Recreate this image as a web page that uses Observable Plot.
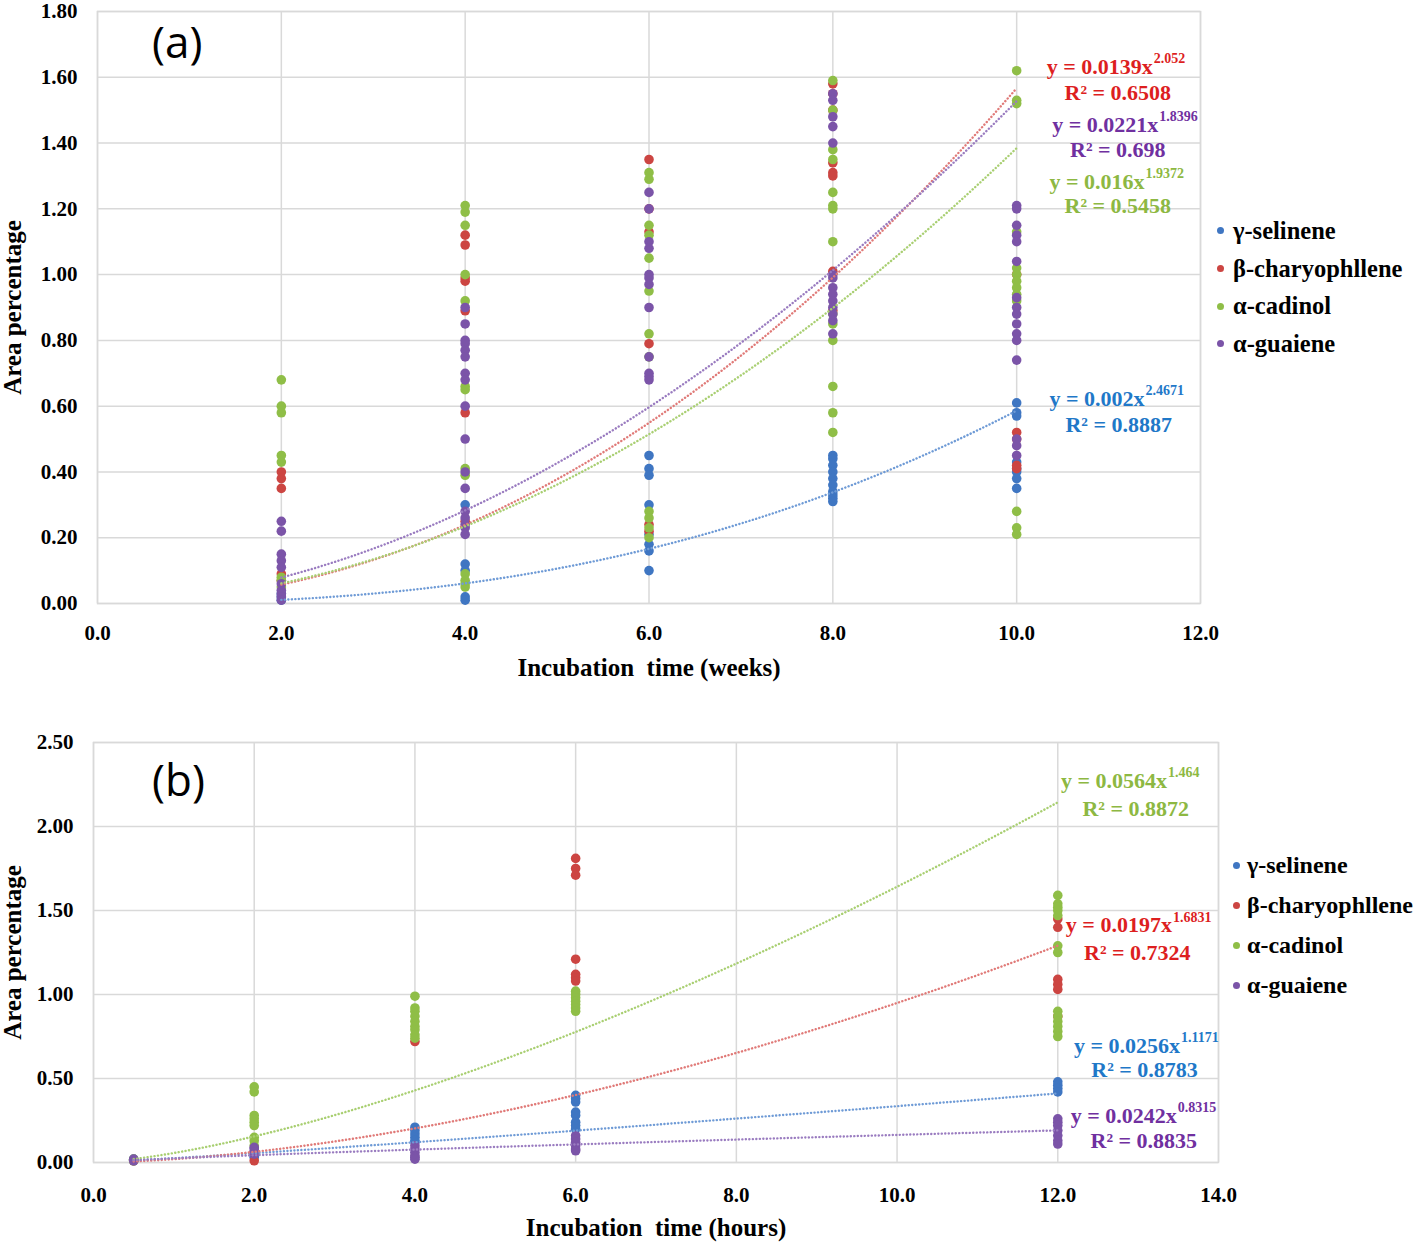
<!DOCTYPE html>
<html>
<head>
<meta charset="utf-8">
<script src="https://cdn.jsdelivr.net/npm/d3@7"></script>
<script src="https://cdn.jsdelivr.net/npm/@observablehq/plot@0.6"></script>
<style>
  html, body { margin: 0; padding: 0; background: #fff; }
  #root { position: relative; width: 1418px; height: 1244px; overflow: hidden;
          font-family: "Liberation Serif", "Times New Roman", serif; }
  .panel { position: absolute; left: 0; }
  .tag { position: absolute; font-family: "Open Sans", "Noto Sans", sans-serif; font-size: 44px; color: #000; line-height: 1; }
  .legend { position: absolute; font-weight: bold; color: #000; }
  .legend .row { display: flex; align-items: center; white-space: nowrap; }
  .legend .dot { width: 7px; height: 7px; border-radius: 50%; flex: none; }
</style>
</head>
<body>
<div id="root"></div>
<script>
// ---------------- data ----------------
const seriesNames = ["γ-selinene", "β-charyophllene", "α-cadinol", "α-guaiene"];

// panel (a): incubation time in weeks
const weeks = [2, 4, 6, 8, 10];
const selineneWeeks = [
  [0.01, 0.02, 0.03],
  [0.30, 0.12, 0.10, 0.02, 0.01],
  [0.45, 0.41, 0.39, 0.30, 0.21, 0.18, 0.16, 0.10],
  [0.45, 0.44, 0.42, 0.40, 0.38, 0.36, 0.34, 0.33, 0.32, 0.31],
  [0.61, 0.58, 0.57, 0.43, 0.41, 0.40, 0.38, 0.35]
];
const charyWeeks = [
  [0.40, 0.38, 0.35, 0.09, 0.07],
  [1.12, 1.09, 0.99, 0.98, 0.89, 0.58, 0.25],
  [1.35, 1.20, 1.13, 0.79, 0.24, 0.22],
  [1.58, 1.55, 1.50, 1.34, 1.31, 1.30, 1.01, 0.89],
  [1.00, 0.52, 0.50, 0.42, 0.41]
];
const cadinolWeeks = [
  [0.68, 0.60, 0.58, 0.45, 0.43, 0.08, 0.07, 0.05],
  [1.21, 1.19, 1.15, 1.00, 0.92, 0.66, 0.65, 0.41, 0.39, 0.09, 0.07, 0.06, 0.05],
  [1.31, 1.29, 1.15, 1.12, 1.05, 0.95, 0.82, 0.75, 0.28, 0.26, 0.23, 0.20],
  [1.59, 1.50, 1.38, 1.35, 1.25, 1.21, 1.20, 1.10, 0.88, 0.85, 0.80, 0.66, 0.58, 0.52],
  [1.62, 1.53, 1.52, 1.13, 1.02, 1.00, 0.98, 0.96, 0.94, 0.92, 0.28, 0.23, 0.21]
];
const guaieneWeeks = [
  [0.25, 0.22, 0.15, 0.13, 0.11, 0.06, 0.04, 0.03, 0.02, 0.01],
  [0.90, 0.85, 0.80, 0.79, 0.77, 0.75, 0.70, 0.68, 0.60, 0.50, 0.40, 0.35, 0.28, 0.26, 0.24, 0.23, 0.21],
  [1.25, 1.20, 1.10, 1.08, 1.00, 0.99, 0.97, 0.90, 0.75, 0.70, 0.69, 0.68],
  [1.55, 1.53, 1.48, 1.45, 1.40, 1.00, 0.99, 0.96, 0.94, 0.92, 0.90, 0.88, 0.86, 0.82],
  [1.21, 1.20, 1.15, 1.12, 1.10, 1.04, 0.93, 0.90, 0.88, 0.85, 0.82, 0.80, 0.74, 0.50, 0.48, 0.45]
];
// power trendlines y = a x^b, panel (a), in series order
const coefWeeks = ["0.002", "0.0139", "0.016", "0.0221"];
const expWeeks = ["2.4671", "2.052", "1.9372", "1.8396"];
const r2Weeks = ["0.8887", "0.6508", "0.5458", "0.698"];

// panel (b): incubation time in hours
const hours = [0.5, 2, 4, 6, 12];
const selineneHours = [
  [0.02, 0.01],
  [0.06, 0.04, 0.03],
  [0.21, 0.19, 0.17, 0.15, 0.13, 0.12],
  [0.40, 0.38, 0.36, 0.30, 0.28, 0.24, 0.22, 0.20],
  [0.48, 0.46, 0.44, 0.42]
];
const charyHours = [
  [0.01],
  [0.06, 0.01],
  [0.72],
  [1.81, 1.75, 1.71, 1.21, 1.12, 1.10, 1.08],
  [1.45, 1.40, 1.09, 1.06, 1.03, 0.87]
];
const cadinolHours = [
  [0.02, 0.01],
  [0.45, 0.42, 0.28, 0.26, 0.24, 0.22, 0.15, 0.13, 0.10],
  [0.99, 0.92, 0.90, 0.87, 0.84, 0.81, 0.79, 0.76, 0.74],
  [1.02, 1.00, 0.98, 0.96, 0.94, 0.92, 0.90],
  [1.59, 1.54, 1.52, 1.50, 1.47, 1.29, 1.25, 0.90, 0.87, 0.84, 0.81, 0.78, 0.75]
];
const guaieneHours = [
  [0.02, 0.01],
  [0.09, 0.08, 0.06, 0.05],
  [0.10, 0.08, 0.06, 0.04, 0.03, 0.02],
  [0.16, 0.14, 0.12, 0.10, 0.08, 0.07],
  [0.26, 0.24, 0.22, 0.19, 0.16, 0.13, 0.11]
];
const coefHours = ["0.0256", "0.0197", "0.0564", "0.0242"];
const expHours = ["1.1171", "1.6831", "1.464", "0.8315"];
const r2Hours = ["0.8783", "0.7324", "0.8872", "0.8835"];

// ---------------- styles / layout ----------------
const dotColors = ["#3f76c2", "#cc4542", "#8fbe47", "#7b54a8"];
const lineColors = ["#6f9bd6", "#e07a78", "#a9cf72", "#9a7cc0"];
const eqColors = ["#1f78c8", "#dd1f1f", "#8db842", "#7030a0"];
// equation label anchors in data units: [x where "…x" ends, y eq, x centre of R², y R²]
const eqLayoutA = [
  [11.39, 0.623, 11.11, 0.544],
  [11.48, 1.632, 11.10, 1.553],
  [11.39, 1.283, 11.10, 1.210],
  [11.54, 1.456, 11.10, 1.380]
];
const eqLayoutB = [
  [13.52, 0.696, 13.08, 0.548],
  [13.42, 1.411, 12.99, 1.250],
  [13.36, 2.274, 12.97, 2.107],
  [13.48, 0.280, 13.07, 0.131]
];

const serif = '"Liberation Serif", "Times New Roman", serif';

function flatten(xs, groups, name) {
  const out = [];
  groups.forEach((vals, i) => vals.forEach(v => out.push({series: name, x: xs[i], y: v})));
  return out;
}

function trend(coef, exp, x0, x1) {
  const a = +coef, b = +exp, n = 120;
  return d3.range(n + 1).map(k => { const x = x0 + (x1 - x0) * k / n; return {x, y: a * Math.pow(x, b)}; });
}

function panel({points, coefs, exps, r2s, layout, xDomain, xTicks, yDomain, yTicks, x0, x1,
                width, height, margins, xLabel, xLabelDy, yLabelDx, xTickPad}) {
  const eqBase = seriesNames.map((s, i) => ({x: layout[i][0], y: layout[i][1], t: `y = ${coefs[i]}x`, c: eqColors[i]}));
  const eqExp = seriesNames.map((s, i) => ({x: layout[i][0], y: layout[i][1], t: exps[i], c: eqColors[i]}));
  const eqR2 = seriesNames.map((s, i) => ({x: layout[i][2], y: layout[i][3], t: `R² = ${r2s[i]}`, c: eqColors[i]}));
  const marks = [
    Plot.gridX(xTicks, {stroke: "#d9d9d9", strokeOpacity: 1, strokeWidth: 1.5}),
    Plot.gridY(yTicks, {stroke: "#d9d9d9", strokeOpacity: 1, strokeWidth: 1.5}),
    Plot.frame({stroke: "#d9d9d9", strokeWidth: 1.5}),
    Plot.axisX(xTicks, {tickSize: 0, tickPadding: xTickPad, tickFormat: d => d.toFixed(1),
      label: null, fontSize: 21, fontWeight: "bold"}),
    Plot.axisY(yTicks, {tickSize: 0, tickPadding: 20, tickFormat: d => d.toFixed(2),
      label: null, fontSize: 21, fontWeight: "bold"}),
    Plot.text([xLabel], {text: d => d, frameAnchor: "bottom", textAnchor: "middle", dy: xLabelDy, fontSize: 25,
      fontWeight: "bold", fontFamily: serif}),
    Plot.text(["Area percentage"], {text: d => d, frameAnchor: "left", textAnchor: "middle", dx: yLabelDx, rotate: -90,
      fontSize: 25, fontWeight: "bold", fontFamily: serif}),
    Plot.dot(points, {x: "x", y: "y", fill: "series", r: 4.8}),
  ];
  seriesNames.forEach((s, i) => {
    marks.push(Plot.line(trend(coefs[i], exps[i], x0, x1), {x: "x", y: "y", stroke: lineColors[i],
      strokeWidth: 2.4, strokeDasharray: "0.1 3.4", strokeLinecap: "round"}));
  });
  marks.push(
    Plot.text(eqBase, {x: "x", y: "y", text: "t", fill: d => d.c, textAnchor: "end", fontSize: 22, fontWeight: "bold", fontFamily: serif}),
    Plot.text(eqExp, {x: "x", y: "y", text: "t", fill: d => d.c, textAnchor: "start", dx: 1, dy: -8, fontSize: 14, fontWeight: "bold", fontFamily: serif}),
    Plot.text(eqR2, {x: "x", y: "y", text: "t", fill: d => d.c, textAnchor: "middle", fontSize: 22, fontWeight: "bold", fontFamily: serif})
  );
  return Plot.plot({
    width, height, ...margins,
    x: {domain: xDomain},
    y: {domain: yDomain},
    color: {domain: seriesNames, range: dotColors},
    style: {fontFamily: serif, fontWeight: "bold", fontSize: "21px", color: "#000", background: "transparent", overflow: "visible", whiteSpace: "pre"},
    marks
  });
}

const root = document.getElementById("root");

const svgA = panel({
  points: [
    ...flatten(weeks, selineneWeeks, seriesNames[0]),
    ...flatten(weeks, charyWeeks, seriesNames[1]),
    ...flatten(weeks, cadinolWeeks, seriesNames[2]),
    ...flatten(weeks, guaieneWeeks, seriesNames[3])
  ],
  coefs: coefWeeks, exps: expWeeks, r2s: r2Weeks, layout: eqLayoutA,
  xDomain: [0, 12], xTicks: d3.range(0, 12.01, 2),
  yDomain: [0, 1.8], yTicks: d3.range(0, 9.5).map(k => k * 0.2),
  x0: 2, x1: 10,
  width: 1418, height: 700,
  margins: {marginLeft: 97, marginRight: 218, marginTop: 11, marginBottom: 97},
  xLabel: "Incubation  time (weeks)", xLabelDy: 72, yLabelDx: -85, xTickPad: 22
});
svgA.classList.add("panel");
svgA.style.top = "0px";
root.appendChild(svgA);

const svgB = panel({
  points: [
    ...flatten(hours, selineneHours, seriesNames[0]),
    ...flatten(hours, charyHours, seriesNames[1]),
    ...flatten(hours, cadinolHours, seriesNames[2]),
    ...flatten(hours, guaieneHours, seriesNames[3])
  ],
  coefs: coefHours, exps: expHours, r2s: r2Hours, layout: eqLayoutB,
  xDomain: [0, 14], xTicks: d3.range(0, 14.01, 2),
  yDomain: [0, 2.5], yTicks: d3.range(0, 5.5).map(k => k * 0.5),
  x0: 0.5, x1: 12,
  width: 1418, height: 544,
  margins: {marginLeft: 93, marginRight: 200, marginTop: 42, marginBottom: 82},
  xLabel: "Incubation  time (hours)", xLabelDy: 73, yLabelDx: -81, xTickPad: 25
});
svgB.classList.add("panel");
svgB.style.top = "700px";
root.appendChild(svgB);

// panel tags
[["(a)", 152, 19], ["(b)", 152, 757]].forEach(([t, l, tp]) => {
  const d = document.createElement("div");
  d.className = "tag"; d.textContent = t;
  d.style.left = l + "px"; d.style.top = tp + "px";
  root.appendChild(d);
});

// legends
function legend(left, top, rowH, gap, size) {
  const lg = document.createElement("div");
  lg.className = "legend";
  lg.style.left = left + "px"; lg.style.top = top + "px"; lg.style.fontSize = size + "px";
  seriesNames.forEach((s, i) => {
    const row = document.createElement("div");
    row.className = "row"; row.style.height = rowH + "px";
    const dot = document.createElement("span");
    dot.className = "dot"; dot.style.background = dotColors[i]; dot.style.marginRight = gap + "px";
    const label = document.createElement("span");
    label.textContent = s;
    row.appendChild(dot); row.appendChild(label);
    lg.appendChild(row);
  });
  root.appendChild(lg);
}
legend(1217, 212, 37.7, 9, 24.5);
legend(1233, 845, 40, 7, 24);
</script>
</body>
</html>
